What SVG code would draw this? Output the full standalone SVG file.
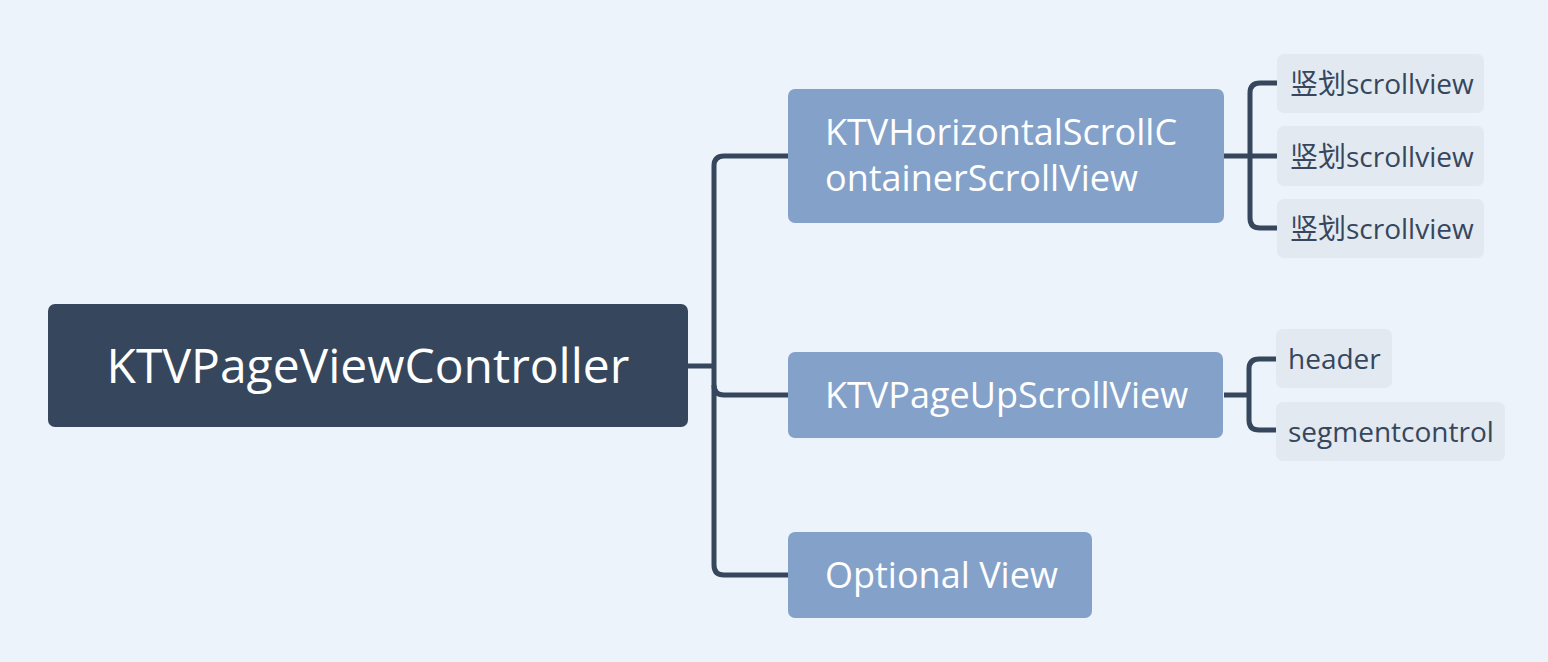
<svg xmlns="http://www.w3.org/2000/svg" width="1548" height="662" viewBox="0 0 1548 662">
<style>
.bg{fill:#ECF3FA}
.root{fill:#36475D}
.main{fill:#84A2C9}
.sub{fill:#E2E9F1}
.line{fill:none;stroke:#36475D;stroke-width:5;stroke-linecap:butt;stroke-linejoin:round}
.t{font-family:"Open Sans","Noto Sans CJK SC",sans-serif}
.tr{font-size:48px;fill:#FFFFFF}
.tm{font-size:36px;fill:#FFFFFF}
.ts{font-size:28px;fill:#36475D}
</style>
<rect class="bg" x="0" y="0" width="1548" height="662"/>
<g id="connectors">
<path class="line" d="M688 366 H714"/>
<path class="line" d="M788 156 H724 Q714 156 714 166 V565 Q714 575 724 575 H788"/>
<path class="line" d="M714 385 Q714 395 724 395 H788"/>
<path class="line" d="M1224 156 H1277"/>
<path class="line" d="M1277 83 H1260 Q1250 83 1250 93 V218 Q1250 228 1260 228 H1277"/>
<path class="line" d="M1224 395 H1249"/>
<path class="line" d="M1276 359 H1259 Q1249 359 1249 369 V420 Q1249 430 1259 430 H1276"/>
</g>
<g id="root">
<rect class="root" x="48" y="304" width="640" height="123" rx="7"/>
<text class="t tr" x="368" y="383" text-anchor="middle">KTVPageViewController</text>
</g>
<g id="horizontal">
<rect class="main" x="788" y="89" width="436" height="134" rx="7"/>
<text class="t tm" x="825" y="145">KTVHorizontalScrollC</text>
<text class="t tm" x="825" y="191">ontainerScrollView</text>
</g>
<g id="pageup">
<rect class="main" x="788" y="352" width="435" height="86" rx="7"/>
<text class="t tm" x="825" y="408">KTVPageUpScrollView</text>
</g>
<g id="optional">
<rect class="main" x="788" y="532" width="304" height="86" rx="7"/>
<text class="t tm" x="825" y="588">Optional View</text>
</g>
<g id="sv1">
<rect class="sub" x="1277" y="54" width="207" height="59" rx="7"/>
<text class="t ts" x="1290" y="94">竖划scrollview</text>
</g>
<g id="sv2">
<rect class="sub" x="1277" y="126" width="207" height="60" rx="7"/>
<text class="t ts" x="1290" y="167">竖划scrollview</text>
</g>
<g id="sv3">
<rect class="sub" x="1277" y="199" width="207" height="59" rx="7"/>
<text class="t ts" x="1290" y="239">竖划scrollview</text>
</g>
<g id="header">
<rect class="sub" x="1276" y="329" width="116" height="59" rx="7"/>
<text class="t ts" x="1288" y="369">header</text>
</g>
<g id="segment">
<rect class="sub" x="1276" y="402" width="229" height="59" rx="7"/>
<text class="t ts" x="1288" y="442">segmentcontrol</text>
</g>
</svg>
